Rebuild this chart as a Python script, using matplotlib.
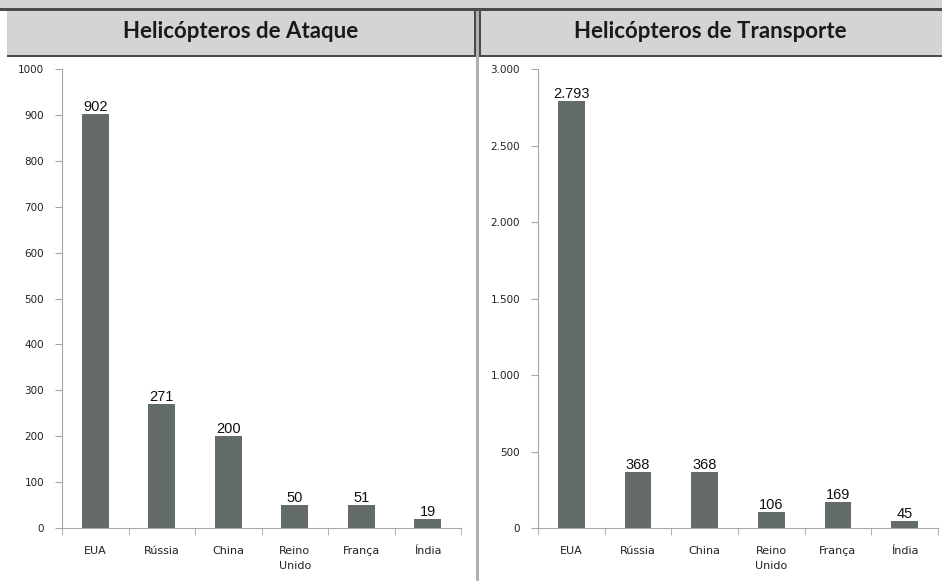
import matplotlib.pyplot as plt
from matplotlib.patches import Rectangle
from matplotlib.ticker import FuncFormatter, FixedLocator

W, H = 942, 581

paises = ["EUA", "Rússia", "China", "Reino\nUnido", "França", "Índia"]
ataque = [902, 271, 200, 50, 51, 19]
transporte = [2793, 368, 368, 106, 169, 45]

titulos = ["Helicópteros de Ataque", "Helicópteros de Transporte"]
yticks_ataque = [0, 100, 200, 300, 400, 500, 600, 700, 800, 900, 1000]
yticks_transp = [0, 500, 1000, 1500, 2000, 2500, 3000]

BAR = "#636b6b"
AXIS = "#a6a6a6"
BAND = "#d4d4d4"
DARK = "#4a4a4a"


def pt(v):
    # milhar com ponto
    return f"{int(v):,}".replace(",", ".")


def box(fig, x, y, w, h, color):
    # retangulo em pixels (origem no topo)
    fig.patches.append(Rectangle((x / W, 1 - (y + h) / H), w / W, h / H,
                                 transform=fig.transFigure, color=color,
                                 zorder=0, lw=0))


fig = plt.figure(figsize=(W / 100, H / 100), dpi=100)
fig.patch.set_facecolor("white")

# faixas do cabecalho
box(fig, 0, 0, W, 8, BAND)
box(fig, 0, 8, W, 3, DARK)
box(fig, 7, 11, W - 7, 45, BAND)
box(fig, 7, 55, W - 7, 2, DARK)
box(fig, 474, 8, 2, 49, DARK)
box(fig, 476, 11, 3, H - 11, "#b0b0b0")
box(fig, 479, 8, 2, 49, DARK)

fig.text(241 / W, 1 - 32 / H, titulos[0], ha="center", va="center",
         fontsize=16, fontweight="bold", family="Lato", color="#1a1a1a")
fig.text(710 / W, 1 - 32 / H, titulos[1], ha="center", va="center",
         fontsize=16, fontweight="bold", family="Lato", color="#1a1a1a")


def painel(rect, valores, ticks, fmt):
    ax = fig.add_axes(rect)
    x = range(len(paises))
    ax.bar(x, valores, width=0.4, color=BAR, zorder=2)
    ax.set_xlim(-0.5, len(paises) - 0.5)
    ax.set_ylim(0, ticks[-1])
    ax.yaxis.set_major_locator(FixedLocator(ticks))
    ax.yaxis.set_major_formatter(FuncFormatter(lambda v, p: fmt(v)))
    ax.set_xticks(list(x))
    ax.set_xticklabels(paises, fontsize=8, family="DejaVu Sans",
                       linespacing=1.65, va="top", color="#222222")
    ax.xaxis.set_minor_locator(FixedLocator([i + 0.5 for i in range(-1, len(paises))]))
    ax.tick_params(axis="x", which="major", length=0, pad=13)
    ax.tick_params(axis="x", which="minor", length=5, color=AXIS, direction="out")
    ax.tick_params(axis="y", length=5, color=AXIS, labelsize=7.5, pad=8,
                   labelcolor="#222222")
    for lab in ax.get_yticklabels():
        lab.set_family("DejaVu Sans")
    for s in ["top", "right"]:
        ax.spines[s].set_visible(False)
    for s in ["left", "bottom"]:
        ax.spines[s].set_color(AXIS)
    for i, v in enumerate(valores):
        ax.text(i, v, pt(v), ha="center", va="bottom", fontsize=10.5,
                family="Liberation Sans", color="#111111")
    return ax


bottom = 1 - 528 / H
height = (528 - 69) / H
painel([62 / W, bottom, 399 / W, height], ataque, yticks_ataque, lambda v: str(int(v)))
painel([538 / W, bottom, 400 / W, height], transporte, yticks_transp, pt)

fig.savefig("out.png", dpi=100)
